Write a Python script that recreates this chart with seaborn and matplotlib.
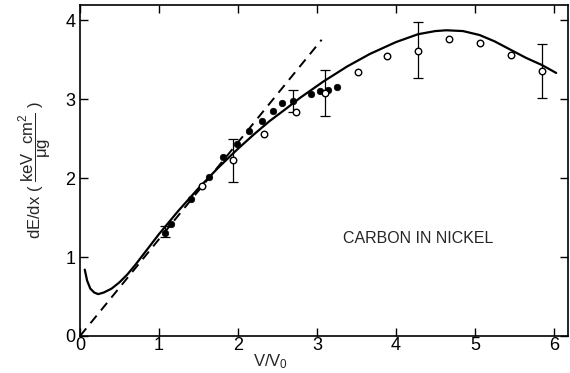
import numpy as np
import pandas as pd
import matplotlib
matplotlib.use("Agg")
import matplotlib.pyplot as plt
import seaborn as sns

# theory curve (solid)
curve_x = [0.06, 0.09, 0.13, 0.18, 0.23, 0.30, 0.40, 0.50, 0.60, 0.70, 0.80, 0.90, 1.00,
           1.25, 1.50, 1.75, 2.00, 2.20, 2.40, 2.60, 2.78, 3.08, 3.38, 3.67, 4.00, 4.28,
           4.50, 4.64, 4.85, 5.06, 5.25, 5.44, 5.65, 5.85, 6.03]
curve_y = [0.84, 0.70, 0.60, 0.55, 0.53, 0.55, 0.60, 0.68, 0.78, 0.90, 1.03, 1.16, 1.29,
           1.59, 1.87, 2.13, 2.37, 2.55, 2.72, 2.87, 3.01, 3.22, 3.41, 3.57, 3.72, 3.82,
           3.86, 3.87, 3.86, 3.81, 3.73, 3.63, 3.52, 3.43, 3.33]

# proportional-to-velocity line (dashed)
dash_x = [0.0, 3.06]
dash_y = [0.0, 3.75]

# measured points
open_x = [1.55, 1.94, 2.33, 2.73, 3.10, 3.52, 3.89, 4.28, 4.67, 5.06, 5.46, 5.85]
open_y = [1.90, 2.23, 2.56, 2.84, 3.08, 3.34, 3.54, 3.61, 3.76, 3.71, 3.56, 3.35]
filled_x = [1.08, 1.15, 1.40, 1.63, 1.81, 1.99, 2.14, 2.31, 2.44, 2.56, 2.70, 2.92,
            3.04, 3.14, 3.25]
filled_y = [1.31, 1.42, 1.73, 2.01, 2.26, 2.43, 2.59, 2.72, 2.85, 2.95, 2.97, 3.06,
            3.10, 3.12, 3.15]

# error bars
err_x = [1.08, 1.94, 2.70, 3.10, 4.28, 5.85]
err_y = [1.32, 2.22, 2.97, 3.08, 3.62, 3.35]
err_d = [0.07, 0.27, 0.14, 0.29, 0.36, 0.34]

sns.set_style("ticks")
plt.rcParams['font.family'] = ['Liberation Sans', 'DejaVu Sans']
plt.rcParams['mathtext.fontset'] = 'custom'
plt.rcParams['mathtext.rm'] = 'Liberation Sans'
plt.rcParams['mathtext.it'] = 'Liberation Sans'
plt.rcParams['mathtext.bf'] = 'Liberation Sans:bold'

fig = plt.figure(figsize=(5.7, 3.73), dpi=100)
ax = fig.add_axes([0.1404, 0.0992, 0.8561, 0.8874])

sns.lineplot(x=curve_x, y=curve_y, ax=ax, color='black', linewidth=1.6,
             sort=False, estimator=None)
sns.lineplot(x=dash_x, y=dash_y, ax=ax, color='black', linewidth=1.4,
             linestyle=(0, (5, 3.5)), estimator=None)

ax.errorbar(err_x, err_y, yerr=err_d, fmt='none', ecolor='black',
            elinewidth=0.9, capsize=3.5, capthick=0.9)

sns.scatterplot(x=filled_x, y=filled_y, ax=ax, color='black', s=22,
                edgecolor='black', linewidth=0.5, zorder=3)
sns.scatterplot(x=open_x, y=open_y, ax=ax, color='white', s=22,
                edgecolor='black', linewidth=1.0, zorder=3)

ax.text(3.33, 1.24, 'CARBON IN NICKEL', fontsize=11.5, va='center', ha='left')

ax.set_xlim(0, 6.18)
ax.set_ylim(0, 4.19)
ax.set_xticks([0, 1, 2, 3, 4, 5, 6])
ax.set_yticks([0, 1, 2, 3, 4])
ax.tick_params(direction='in', top=True, right=True, length=6, width=1,
               labelsize=13, colors='black')
ax.tick_params(axis='x', pad=1)
for sp in ax.spines.values():
    sp.set_visible(True)
    sp.set_linewidth(1.2)
    sp.set_color('black')

ax.set_xlabel(r'V/V$_0$', fontsize=12, va='top')
ax.xaxis.set_label_coords(0.39, -0.048)
ax.set_ylabel(r'dE/dx ( $\dfrac{\mathrm{keV\ \ cm^2}}{\mathrm{\mu g}}$ )', fontsize=12, labelpad=8)

fig.savefig('out.png', dpi=100, facecolor='white')
